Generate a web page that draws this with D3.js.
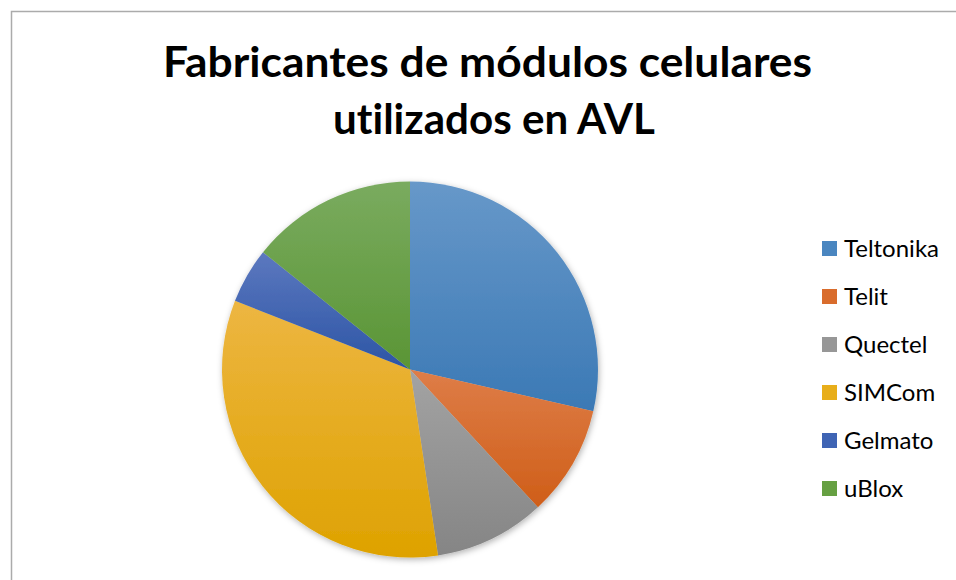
<!DOCTYPE html>
<html>
<head>
<meta charset="utf-8">
<script src="https://cdn.jsdelivr.net/npm/d3@7"></script>
<style>
  html, body { margin: 0; padding: 0; background: #fff; }
  svg { display: block; }
</style>
</head>
<body>
<div id="chart"></div>
<script>
const titleLines = ['Fabricantes de módulos celulares', 'utilizados en AVL'];
const categories = ['Teltonika', 'Telit', 'Quectel', 'SIMCom', 'Gelmato', 'uBlox'];
const values = [6, 2, 2, 7, 1, 3];
const baseColors = ['#4a86c0', '#d96c2c', '#979797', '#e8ae1a', '#3f64b4', '#66a042'];
// top / bottom shades of each slice gradient (per slice box)
const topColors = ['#6798c9', '#de7d48', '#a3a3a3', '#edb642', '#5c78bf', '#7aab5f'];
const bottomColors = ['#3b79b5', '#cf5e18', '#858585', '#dea200', '#2c55a5', '#5a9535'];

document.addEventListener('DOMContentLoaded', () => {
    const width = 956, height = 580;
    const cx = 410, cy = 369.5, radius = 188;

    const svg = d3.select('#chart')
        .append('svg')
        .attr('width', width)
        .attr('height', height);

    const defs = svg.append('defs');

    const shadow = defs.append('filter')
        .attr('id', 'shadow')
        .attr('x', '-10%').attr('y', '-10%')
        .attr('width', '120%').attr('height', '120%');
    shadow.append('feDropShadow')
        .attr('dx', 1).attr('dy', 2)
        .attr('stdDeviation', 3)
        .attr('flood-color', '#000')
        .attr('flood-opacity', 0.3);

    categories.forEach((c, i) => {
        const g = defs.append('linearGradient')
            .attr('id', 'grad' + i)
            .attr('x1', 0).attr('x2', 0)
            .attr('y1', 0).attr('y2', 1);
        g.append('stop').attr('offset', '0%').attr('stop-color', topColors[i]);
        g.append('stop').attr('offset', '100%').attr('stop-color', bottomColors[i]);
    });

    // chart area border (only left and top edges are visible)
    svg.append('rect')
        .attr('x', 11.5).attr('y', 11.5)
        .attr('width', width + 20).attr('height', height + 20)
        .attr('fill', 'none')
        .attr('stroke', '#ababab')
        .attr('stroke-width', 1.5);

    // title
    const title = svg.append('text')
        .attr('text-anchor', 'middle')
        .attr('font-family', 'Lato, "Open Sans", sans-serif')
        .attr('font-weight', 'bold')
        .attr('font-size', 42)
        .style('font-variant-ligatures', 'none')
        .attr('fill', '#000');
    const titleWidths = [649, 322];
    const titleX = [487.5, 494];
    titleLines.forEach((t, i) => {
        title.append('tspan')
            .attr('x', titleX[i])
            .attr('y', 77 + i * 57)
            .attr('textLength', titleWidths[i])
            .attr('lengthAdjust', 'spacingAndGlyphs')
            .text(t);
    });

    // pie
    const pie = d3.pie().sort(null).value(d => d);
    const arc = d3.arc().innerRadius(0).outerRadius(radius);

    const g = svg.append('g')
        .attr('transform', `translate(${cx}, ${cy})`)
        .attr('filter', 'url(#shadow)');

    g.selectAll('path')
        .data(pie(values))
        .enter().append('path')
        .attr('d', arc)
        .attr('fill', (_, i) => `url(#grad${i})`);

    // legend
    const legend = svg.append('g')
        .attr('font-family', 'Lato, "Open Sans", sans-serif')
        .attr('font-size', 24)
        .style('font-variant-ligatures', 'none')
        .attr('fill', '#000');

    const rows = legend.selectAll('g')
        .data(categories)
        .enter().append('g')
        .attr('transform', (_, i) => `translate(822, ${257 + i * 48})`);

    rows.append('rect')
        .attr('x', 0).attr('y', -16)
        .attr('width', 15).attr('height', 15)
        .attr('fill', (_, i) => baseColors[i]);

    rows.append('text')
        .attr('x', 22).attr('y', 0)
        .text(d => d);
});
</script>
</body>
</html>
